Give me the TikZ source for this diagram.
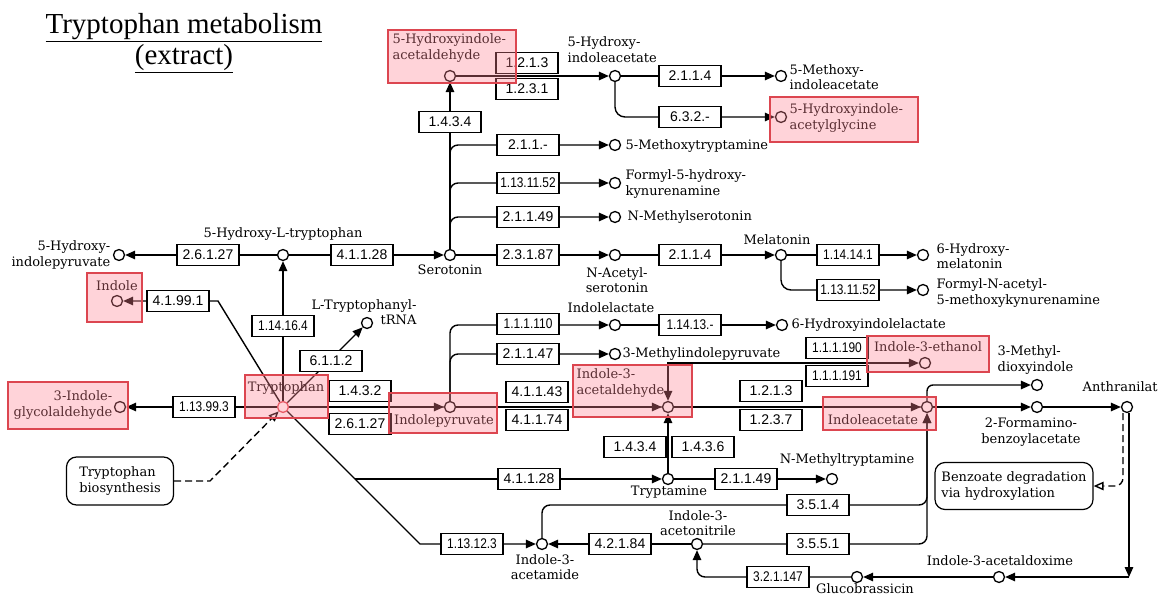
\documentclass[tikz,border=0pt]{standalone}
\usepackage{fontspec}
\usepackage{graphicx}
\setmainfont{DejaVu Serif}
\newfontfamily\ecfont{Liberation Sans}
\newfontfamily\ttlfont{Liberation Serif}
\usetikzlibrary{arrows.meta,backgrounds}
\definecolor{hlred}{RGB}{220,70,80}
\definecolor{hlpink}{RGB}{255,130,145}
\newcommand{\sq}[1]{\scalebox{0.85}[1]{#1}}

\begin{document}
\begin{tikzpicture}[x=1pt, y=-1pt, line width=1.4pt,
    >={Triangle[length=10pt,width=8.5pt]},
    cpd/.style={circle, draw, fill=white, line width=1.3pt, inner sep=0pt, minimum size=11pt},
    ec/.style={draw, fill=white, line width=1.2pt, minimum width=62pt, minimum height=21pt, inner sep=1pt,
        font=\ecfont\fontsize{14}{16}\selectfont},
    lbl/.style={inner sep=0pt, font=\fontsize{13}{15.5}\selectfont, align=left},
    pathway/.style={draw, line width=1.2pt, rounded corners=10pt, inner sep=0pt, font=\fontsize{13}{15.5}\selectfont, align=left},
    dual/.style={line width=2.8pt, draw=black!55},
    hl/.style={draw=hlred, line width=2.6pt, fill=hlpink, fill opacity=0.35},
    bd/.style={dash pattern=on 7pt off 4pt}]
    \useasboundingbox (0,0) rectangle (1158,596);

    % title
    \node[font=\ttlfont\fontsize{29}{31}\selectfont, align=center] (title) at (184,43)
        {\underline{Tryptophan metabolism}\\\underline{(extract)}};

    % compounds
    \node[cpd] (hial) at (450,76) {};
    \node[cpd] (hiaa) at (615,76) {};
    \node[cpd] (mia) at (781,76) {};
    \node[cpd] (hiag) at (781,117) {};
    \node[cpd] (mt5) at (615,145) {};
    \node[cpd] (fhk) at (615,183) {};
    \node[cpd] (nms) at (615,217) {};
    \node[cpd] (hipy) at (119,255) {};
    \node[cpd] (htp) at (283,255) {};
    \node[cpd] (ser) at (450,255) {};
    \node[cpd] (nas) at (615,255) {};
    \node[cpd] (mel) at (781,255) {};
    \node[cpd] (hmel) at (923,255) {};
    \node[cpd] (fnak) at (923,290) {};
    \node[cpd] (ilac) at (615,325) {};
    \node[cpd] (hilac) at (782,325) {};
    \node[cpd] (mipyr) at (615,354) {};
    \node[cpd] (ind) at (117,301) {};
    \node[cpd] (trna) at (367,323) {};
    \node[cpd] (igal) at (120,407) {};
    \node[cpd, draw=hlred] (trp) at (283,407) {};
    \node[cpd] (ipyr) at (450,407) {};
    \node[cpd] (iald) at (668,407) {};
    \node[cpd] (ieth) at (925,363) {};
    \node[cpd] (iaa) at (927,407) {};
    \node[cpd] (mdi) at (1037,385) {};
    \node[cpd] (fab) at (1037,407) {};
    \node[cpd] (anth) at (1127,407) {};
    \node[cpd] (tam) at (668,479) {};
    \node[cpd] (nmt) at (832,479) {};
    \node[cpd] (iam) at (542,544) {};
    \node[cpd] (ian) at (697,544) {};
    \node[cpd] (iaox) at (999,577) {};
    \node[cpd] (gbr) at (857,577) {};
    \coordinate (ibk) at (218,301);
    \coordinate (dg) at (420,544);
    \coordinate (dg2) at (355,479);
    \coordinate (tbk) at (210,481);
    \coordinate (jn) at (1129,577);

    % enzymes
    \node[ec] (e1213a) at (527,63) {1.2.1.3};
    \node[ec] (e1231) at (527,89) {1.2.3.1};
    \node[ec] (e2114a) at (690,76) {2.1.1.4};
    \node[ec] (e632) at (690,117) {6.3.2.-};
    \node[ec] (e1434a) at (450,122) {1.4.3.4};
    \node[ec] (e211) at (528,145) {2.1.1.-};
    \node[ec] (e11311a) at (528,183) {\sq{1.13.11.52}};
    \node[ec] (e21149a) at (528,217) {2.1.1.49};
    \node[ec] (e26127a) at (208,255) {2.6.1.27};
    \node[ec] (e41128a) at (362,255) {4.1.1.28};
    \node[ec] (e23187) at (528,255) {2.3.1.87};
    \node[ec] (e2114b) at (690,255) {2.1.1.4};
    \node[ec] (e114141) at (848,255) {\sq{1.14.14.1}};
    \node[ec] (e11311b) at (848,290) {\sq{1.13.11.52}};
    \node[ec] (e111110) at (528,324) {\sq{1.1.1.110}};
    \node[ec] (e11413) at (690,325) {\sq{1.14.13.-}};
    \node[ec] (e21147) at (528,354) {2.1.1.47};
    \node[ec] (e41991) at (178,301) {4.1.99.1};
    \node[ec] (e114164) at (283,326) {\sq{1.14.16.4}};
    \node[ec] (e6112) at (331,361) {6.1.1.2};
    \node[ec] (e113993) at (204,407) {\sq{1.13.99.3}};
    \node[ec] (e1432) at (360,391) {1.4.3.2};
    \node[ec] (e26127b) at (360,424) {2.6.1.27};
    \node[ec] (e41143) at (537,392) {4.1.1.43};
    \node[ec] (e41174) at (537,420) {4.1.1.74};
    \node[ec] (e111190) at (837,348) {\sq{1.1.1.190}};
    \node[ec] (e111191) at (837,376) {\sq{1.1.1.191}};
    \node[ec] (e1213b) at (771,391) {1.2.1.3};
    \node[ec] (e1237) at (771,420) {1.2.3.7};
    \node[ec] (e1434b) at (635,447) {1.4.3.4};
    \node[ec] (e1436) at (703,447) {1.4.3.6};
    \node[ec] (e41128b) at (529,479) {4.1.1.28};
    \node[ec] (e21149b) at (746,479) {2.1.1.49};
    \node[ec] (e3514) at (818,505) {3.5.1.4};
    \node[ec] (e3551) at (818,544) {3.5.5.1};
    \node[ec] (e113123) at (472,544) {\sq{1.13.12.3}};
    \node[ec] (e42184) at (620,544) {4.2.1.84};
    \node[ec] (e321147) at (778,577) {\sq{3.2.1.147}};

    % linked maps
    \node[pathway, minimum width=107pt, minimum height=48pt] (tbio) at (120,481) {Tryptophan\\biosynthesis};
    \node[pathway, minimum width=158pt, minimum height=47pt] (benz) at (1014,486) {Benzoate degradation\\via hydroxylation};

    % labels
    \node[lbl, anchor=north west] (l-hial) at (392,33) {5-Hydroxyindole-\\acetaldehyde};
    \node[lbl, anchor=north west] (l-hiaa) at (567,36) {5-Hydroxy-\\indoleacetate};
    \node[lbl, anchor=west] (l-mia) at (789,77) {5-Methoxy-\\indoleacetate};
    \node[lbl, anchor=west] (l-hiag) at (789,118) {5-Hydroxyindole-\\acetylglycine};
    \node[lbl, anchor=west] (l-mt5) at (625,146) {5-Methoxytryptamine};
    \node[lbl, anchor=west] (l-fhk) at (625,184) {Formyl-5-hydroxy-\\kynurenamine};
    \node[lbl, anchor=west] (l-nms) at (627,217) {N-Methylserotonin};
    \node[lbl, anchor=east, align=right] (l-hipy) at (111,255) {5-Hydroxy-\\indolepyruvate};
    \node[lbl] (l-htp) at (283,234) {5-Hydroxy-L-tryptophan};
    \node[lbl] (l-ser) at (450,270) {Serotonin};
    \node[lbl, align=center] (l-nas) at (617,280) {N-Acetyl-\\serotonin};
    \node[lbl] (l-mel) at (777,240) {Melatonin};
    \node[lbl, anchor=west] (l-hmel) at (936,256) {6-Hydroxy-\\melatonin};
    \node[lbl, anchor=west] (l-fnak) at (936,293) {Formyl-N-acetyl-\\5-methoxykynurenamine};
    \node[lbl] (l-ilac) at (611,308) {Indolelactate};
    \node[lbl, anchor=west] (l-hilac) at (791,325) {6-Hydroxyindolelactate};
    \node[lbl, anchor=west] (l-mipyr) at (622,354) {3-Methylindolepyruvate};
    \node[lbl] (l-ind) at (117,286) {Indole};
    \node[lbl, align=right] (l-trna) at (364,312) {L-Tryptophanyl-\\tRNA};
    \node[lbl, anchor=east, align=right] (l-igal) at (113,405) {3-Indole-\\glycolaldehyde};
    \node[lbl] (l-trp) at (286,388) {Tryptophan};
    \node[lbl] (l-ipyr) at (444,421) {Indolepyruvate};
    \node[lbl, anchor=north west] (l-iald) at (576,368) {Indole-3-\\acetaldehyde};
    \node[lbl] (l-ieth) at (928,347) {Indole-3-ethanol};
    \node[lbl, anchor=west] (l-mdi) at (997,360) {3-Methyl-\\dioxyindole};
    \node[lbl] (l-iaa) at (873,420) {Indoleacetate};
    \node[lbl, align=center] (l-fab) at (1031,432) {2-Formamino-\\benzoylacetate};
    \node[lbl, anchor=west] (l-anth) at (1082,387) {Anthranilat};
    \node[lbl] (l-tam) at (669,492) {Tryptamine};
    \node[lbl] (l-nmt) at (847,460) {N-Methyltryptamine};
    \node[lbl, align=center] (l-iam) at (545,567) {Indole-3-\\acetamide};
    \node[lbl, align=center] (l-ian) at (698,523) {Indole-3-\\acetonitrile};
    \node[lbl] (l-iaox) at (1000,561) {Indole-3-acetaldoxime};
    \node[lbl] (l-gbr) at (865,589) {Glucobrassicin};

    % reactions
    \begin{scope}[on background layer]
    \begin{scope}[line width=1.4pt]
        \draw[->] (htp) -- (hipy);
        \draw[->] (htp) -- (ser);
        \draw[->] (ser) -- (hial);
        \draw[->, rounded corners=8pt] (ser) |- (mt5);
        \draw[->, rounded corners=8pt] (ser) |- (fhk);
        \draw[->, rounded corners=8pt] (ser) |- (nms);
        \draw[->] (hial) -- (hiaa);
        \draw[->] (hiaa) -- (mia);
        \draw[->, rounded corners=10pt] (hiaa) |- (hiag);
        \draw[->] (ser) -- (nas);
        \draw[->] (nas) -- (mel);
        \draw[->] (mel) -- (hmel);
        \draw[->, rounded corners=10pt] (mel) |- (fnak);
        \draw[->] (trp) -- (htp);
        \draw[->] (trp) -- (trna);
        \draw[->] (trp) -- (ibk) -- (ind);
        \draw[->] (trp) -- (igal);
        \draw[dual] (trp) -- (ipyr);
        \draw[->] (trp) -- (ipyr);
        \draw[->, rounded corners=8pt] (ipyr) |- (ilac);
        \draw[->, rounded corners=8pt] (ipyr) |- (mipyr);
        \draw[->] (ilac) -- (hilac);
        \draw[dual] (ipyr) -- (iald);
        \draw[->] (ipyr) -- (iald);
        \draw[<->] (iald) |- (ieth);
        \draw[dual] (iald) -- (iaa);
        \draw[->] (iald) -- (iaa);
        \draw[->, rounded corners=6pt] (iaa) |- (mdi);
        \draw[->] (iaa) -- (fab);
        \draw[->] (fab) -- (anth);
        \draw[bd, -{Triangle[open,length=10pt,width=8.5pt]}, rounded corners=8pt] ([xshift=-4pt]anth.south) |- (benz.east);
        \draw[->] ([xshift=2pt]anth.south) -- (jn);
        \draw[->] (jn) -- (iaox);
        \draw[->] (iaox) -- (gbr);
        \draw[->, rounded corners=8pt] (gbr) -| (ian);
        \draw[->] (ian) -- (iam);
        \draw[->, rounded corners=8pt] (ian) -| (iaa);
        \draw[->, rounded corners=8pt] (iam) |- (e3514.west) -| (iaa);
        \draw[->] (trp) -- (dg) -- (iam);
        \draw[->] (dg2) -- (tam);
        \draw[->] (tam) -- (iald);
        \draw[->] (tam) -- (nmt);
        \draw[bd, -{Triangle[open,length=10pt,width=8.5pt]}] (tbio.east) -- (tbk) -- (trp);
    \end{scope}
    \end{scope}

    % highlighted compounds
    \draw[hl] (388,30) rectangle (516,83);
    \draw[hl] (770,97) rectangle (918,142);
    \draw[hl] (87,273) rectangle (142,322);
    \draw[hl] (8,382) rectangle (128,429);
    \draw[hl] (245,375) rectangle (328,418);
    \draw[hl] (389,393) rectangle (497,433);
    \draw[hl] (573,365) rectangle (692,417);
    \draw[hl] (867,336) rectangle (989,372);
    \draw[hl] (823,397) rectangle (936,430);
\end{tikzpicture}
\end{document}
